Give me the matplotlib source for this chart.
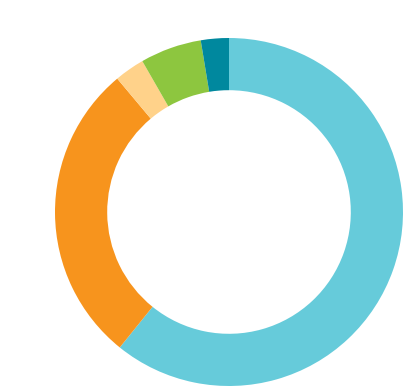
import matplotlib

matplotlib.use("Agg")
import matplotlib.pyplot as plt

# Segment shares, clockwise from 12 o'clock
labels = ["A", "B", "C", "D", "E"]
values = [60.8, 28.1, 2.8, 5.7, 2.6]
colors = ["#66cbda", "#f7941d", "#ffd28a", "#8dc63f", "#00889e"]

fig = plt.figure(figsize=(4.03, 3.86), dpi=100)
# outer circle: centre (229, 212) px, radius 174 px
ax = fig.add_axes([55 / 403, 0 / 386, 348 / 403, 348 / 386])
ax.pie(
    values,
    colors=colors,
    startangle=90,
    counterclock=False,
    radius=1.0,
    wedgeprops=dict(width=0.3, edgecolor="none", linewidth=0),
)
ax.set_xlim(-1, 1)
ax.set_ylim(-1, 1)
ax.set_aspect("equal")
ax.axis("off")

fig.savefig("out.png", dpi=100)
